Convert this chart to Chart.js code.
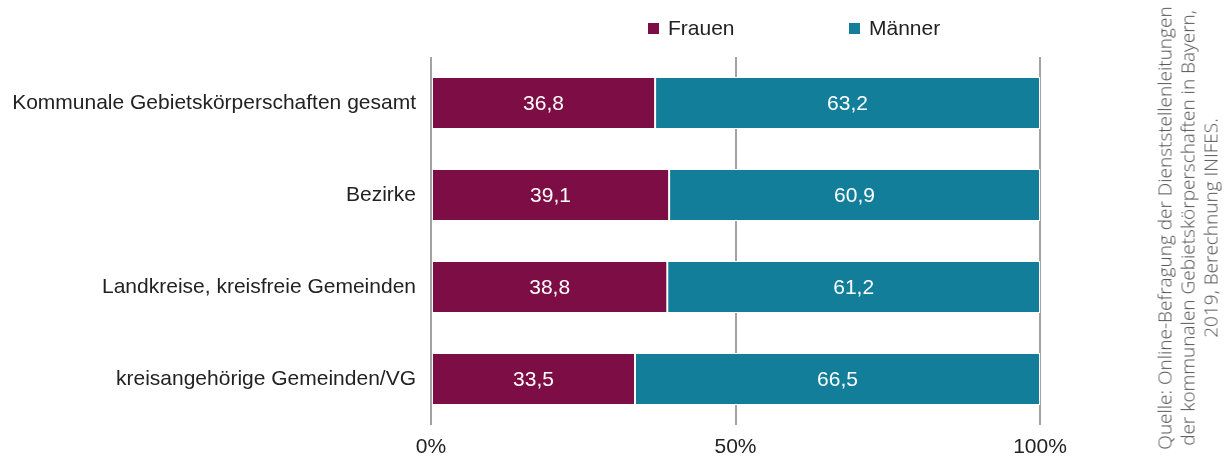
<!DOCTYPE html>
<html>
<head>
<meta charset="utf-8">
<script src="https://cdn.jsdelivr.net/npm/chart.js@4.4.1/dist/chart.umd.min.js"></script>
<style>
  html, body { margin: 0; padding: 0; background: #fff; }
  #wrap { position: relative; width: 1225px; height: 457px; }
  #c { position: absolute; left: 0; top: 0; }
  #src {
    position: absolute;
    left: 1188px; top: 228px;
    width: 470px;
    transform: translate(-50%, -50%) rotate(-90deg);
    font-family: "Open Sans", sans-serif;
    font-weight: 300;
    font-size: 19px;
    line-height: 23px;
    color: #4f4f4f;
    text-align: center;
    white-space: nowrap;
  }
</style>
</head>
<body>
<div id="wrap">
  <canvas id="c" width="1225" height="457"></canvas>
  <div id="src">Quelle: Online-Befragung der Dienststellenleitungen<br>der kommunalen Gebietskörperschaften in Bayern,<br>2019, Berechnung INIFES.</div>
</div>
<script>
const categories = [
  "Kommunale Gebietskörperschaften gesamt",
  "Bezirke",
  "Landkreise, kreisfreie Gemeinden",
  "kreisangehörige Gemeinden/VG"
];
const frauen = [36.8, 39.1, 38.8, 33.5];
const maenner = [63.2, 60.9, 61.2, 66.5];
const seriesNames = ["Frauen", "Männer"];
const tickValues = [0, 50, 100];

const FONT = '"Liberation Sans", Arial, sans-serif';

const valueLabels = {
  id: 'valueLabels',
  afterDatasetsDraw(chart) {
    const ctx = chart.ctx;
    ctx.save();
    ctx.font = '21px ' + FONT;
    ctx.fillStyle = '#ffffff';
    ctx.textAlign = 'center';
    ctx.textBaseline = 'middle';
    chart.data.datasets.forEach((ds, di) => {
      const meta = chart.getDatasetMeta(di);
      meta.data.forEach((bar, i) => {
        const cx = (bar.x + bar.base) / 2;
        ctx.fillText(ds.data[i].toFixed(1).replace('.', ','), cx, bar.y + 1);
      });
    });
    ctx.restore();
  }
};

const customLegend = {
  id: 'customLegend',
  afterDraw(chart) {
    const ctx = chart.ctx;
    ctx.save();
    ctx.font = '21px ' + FONT;
    ctx.textBaseline = 'middle';
    ctx.textAlign = 'left';
    const starts = [648, 849];
    chart.data.datasets.forEach((ds, di) => {
      const x = starts[di];
      ctx.fillStyle = ds.backgroundColor;
      ctx.fillRect(x, 23, 11, 11);
      ctx.fillStyle = '#222222';
      ctx.fillText(ds.label, x + 20, 29);
    });
    ctx.restore();
  }
};

new Chart(document.getElementById('c'), {
  type: 'bar',
  data: {
    labels: categories,
    datasets: [
      { label: seriesNames[0], data: frauen, backgroundColor: '#7d0e45', borderColor: '#ffffff', borderWidth: 1, borderSkipped: false },
      { label: seriesNames[1], data: maenner, backgroundColor: '#127e99', borderColor: '#ffffff', borderWidth: 1, borderSkipped: false }
    ]
  },
  options: {
    indexAxis: 'y',
    responsive: false,
    animation: false,
    devicePixelRatio: 1,
    layout: { padding: { top: 57, right: 185, left: 0, bottom: 0 } },
    datasets: { bar: { categoryPercentage: 1, barPercentage: 0.565 } },
    plugins: { legend: { display: false }, tooltip: { enabled: false } },
    scales: {
      x: {
        stacked: true,
        min: 0, max: 100,
        afterBuildTicks(scale) { scale.ticks = tickValues.map(v => ({ value: v })); },
        afterFit(scale) { scale.height = 32; },
        grid: { color: '#a3a3a3', lineWidth: 2, drawTicks: false },
        border: { display: false },
        ticks: {
          padding: 10,
          color: '#222222',
          font: { family: FONT, size: 21 },
          callback: v => v + '%'
        }
      },
      y: {
        stacked: true,
        afterFit(scale) { scale.width = 431; },
        grid: { display: false, drawTicks: false },
        border: { display: false },
        ticks: {
          padding: 15,
          color: '#222222',
          font: { family: FONT, size: 21 }
        }
      }
    }
  },
  plugins: [valueLabels, customLegend]
});
</script>
</body>
</html>
